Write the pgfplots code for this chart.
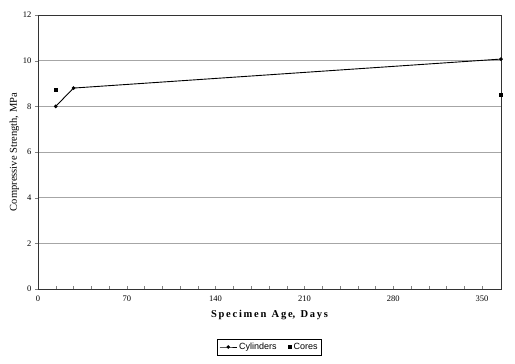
\documentclass[border=0pt]{standalone}
\usepackage{pgfplots}
\pgfplotsset{compat=1.18}
\usepackage{fontspec}
\setmainfont{Liberation Serif}
\newfontfamily\legfont{Liberation Sans}
\begin{document}
\begin{tikzpicture}
\begin{axis}[
  scale only axis,
  width=463pt, height=274pt,
  xmin=0, xmax=365, ymin=0, ymax=12,
  xtick={0,70,140,210,280,350},
  minor xtick={14,28,42,56,84,98,112,126,154,168,182,196,224,238,252,266,294,308,322,336},
  ytick={0,2,4,6,8,10,12},
  ymajorgrids,
  grid style={gray!70, line width=0.5pt},
  axis line style={black!80, line width=0.6pt},
  xtick align=inside,
  ytick align=outside,
  major tick length=3pt, minor tick length=2.5pt,
  xtick pos=bottom, ytick pos=left,
  ticklabel style={font=\fontsize{8.5}{10}\selectfont},
  /pgf/number format/assume math mode=true,
  xticklabel style={yshift=-3pt},
  xlabel={\textbf{S\,p\,e\,c\,i\,m\,e\,n\ \ A\,g\,e,\ \ D\,a\,y\,s}},
  xlabel style={font=\fontsize{10.5}{12}\selectfont, yshift=-2pt},
  ylabel={Compressive Strength, MPa},
  ylabel style={font=\fontsize{10.5}{12}\selectfont, yshift=-3pt},
  legend style={at={(0.5,0)}, anchor=center, yshift=-58pt,
    font=\legfont\fontsize{9}{11}\selectfont, draw=black, line width=0.5pt,
    inner sep=2pt, legend columns=2},
  legend cell align=left,
]
\addplot[black, line width=0.9pt, mark=*, mark size=1.3pt] coordinates {
  (14,8.0) (28,8.8) (365,10.07)
};
\addlegendentry{Cylinders\kern10pt\mbox{}}
\addplot[only marks, black, mark=square*, mark size=1.5pt] coordinates {
  (14,8.75) (365,8.53)
};
\addlegendentry{Cores}
\end{axis}
\path ([xshift=-38pt,yshift=-75pt]current axis.south west) rectangle ([xshift=14pt,yshift=15pt]current axis.north east);
\end{tikzpicture}
\end{document}
